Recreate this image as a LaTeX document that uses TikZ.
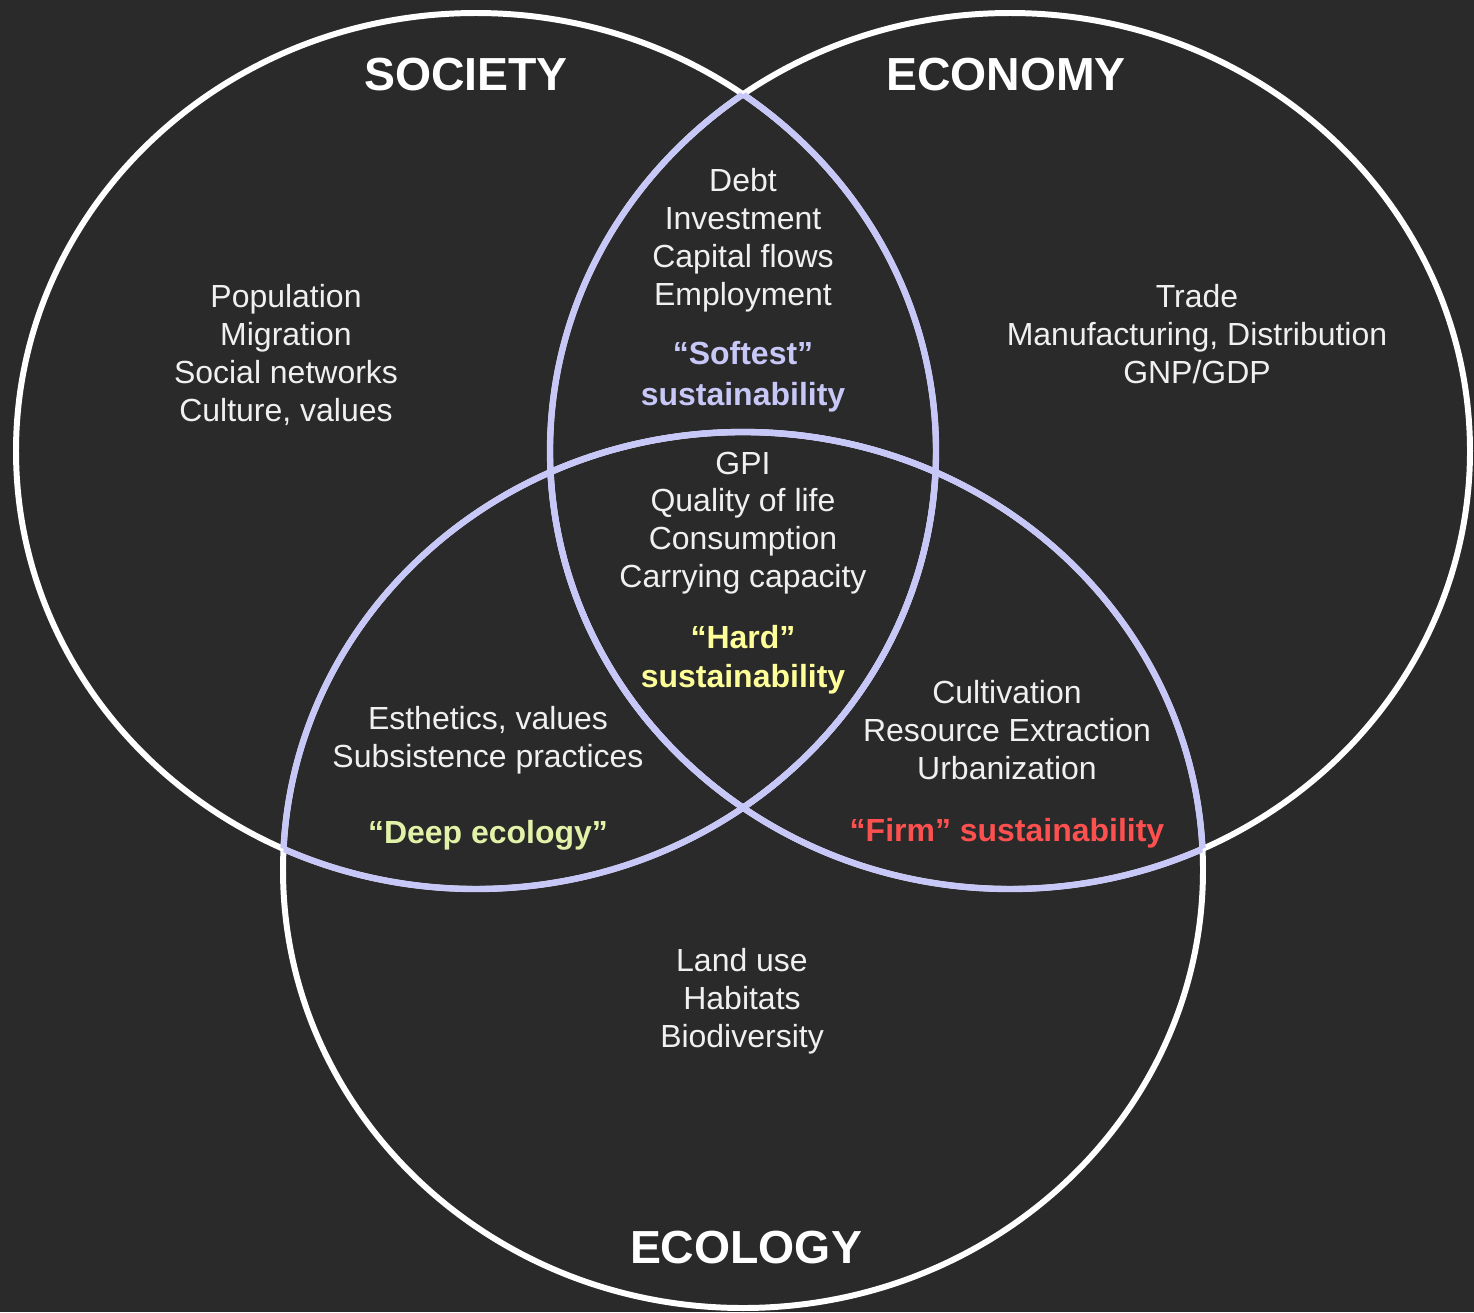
\documentclass[tikz,border=0pt]{standalone}
\usepackage{fontspec}
\setmainfont{Liberation Sans}
\usepackage{xcolor}

\definecolor{bgdark}{HTML}{2A2A2A}
\definecolor{lensline}{HTML}{C8C8F8}
\definecolor{softcol}{HTML}{C8C8F8}
\definecolor{hardcol}{HTML}{FFFF99}
\definecolor{deepcol}{HTML}{E2F2A8}
\definecolor{firmcol}{HTML}{FF5050}

\newcommand{\hilite}[2]{\textcolor{#1}{\bfseries #2}}

\begin{document}
\begin{tikzpicture}[
  x=0.1mm,y=-0.1mm,
  ring/.style={draw=white,line width=1.7pt},
  lens/.style={draw=lensline,line width=1.8pt},
  title/.style={font=\fontsize{13.2}{15}\selectfont\bfseries,text=white,inner sep=0pt},
  body/.style={font=\fontsize{9.1}{10.8}\selectfont,text=white!94!black,align=center,inner sep=0pt}
]
\fill[bgdark] (0,0) rectangle (1474,1312);
\coordinate (soc) at (476,451);
\coordinate (eco) at (1010,451);
\coordinate (ecl) at (743,870);
\foreach \c in {soc,eco,ecl}
  \draw[ring] (\c) ellipse [x radius=46mm,y radius=43.8mm];
% overlapping parts of each ring
\foreach \a/\b in {soc/eco,soc/ecl,eco/soc,eco/ecl,ecl/soc,ecl/eco}{
  \begin{scope}
    \clip (\b) ellipse [x radius=46mm,y radius=43.8mm];
    \draw[lens] (\a) ellipse [x radius=46mm,y radius=43.8mm];
  \end{scope}
}
\node[title] (society) at (466,75) {SOCIETY};
\node[title] (economy) at (1006,75) {ECONOMY};
\node[title] (ecology) at (746,1248) {ECOLOGY};
\node[body] (socitems) at (286,355) {Population\\Migration\\Social networks\\Culture, values};
\node[body] (ecoitems) at (1197,334) {Trade\\Manufacturing, Distribution\\GNP/GDP};
\node[body] (eclitems) at (742,1001) {Land use\\Habitats\\Biodiversity};
\node[body] (softest) at (743,290) {Debt\\Investment\\Capital flows\\Employment\\[6pt]
  \hilite{softcol}{“Softest”}\\[0.8pt]\hilite{softcol}{sustainability}};
\node[body] (hard) at (743,573) {GPI\\Quality of life\\Consumption\\Carrying capacity\\[6.5pt]
  \hilite{hardcol}{“Hard”}\\[0.3pt]\hilite{hardcol}{sustainability}};
\node[body] (deep) at (488,778) {Esthetics, values\\Subsistence practices\\[10.8pt]
  \hilite{deepcol}{“Deep ecology”}};
\node[body] (firm) at (1007,764) {Cultivation\\Resource Extraction\\Urbanization\\[6.8pt]
  \hilite{firmcol}{“Firm” sustainability}};
\end{tikzpicture}
\end{document}
